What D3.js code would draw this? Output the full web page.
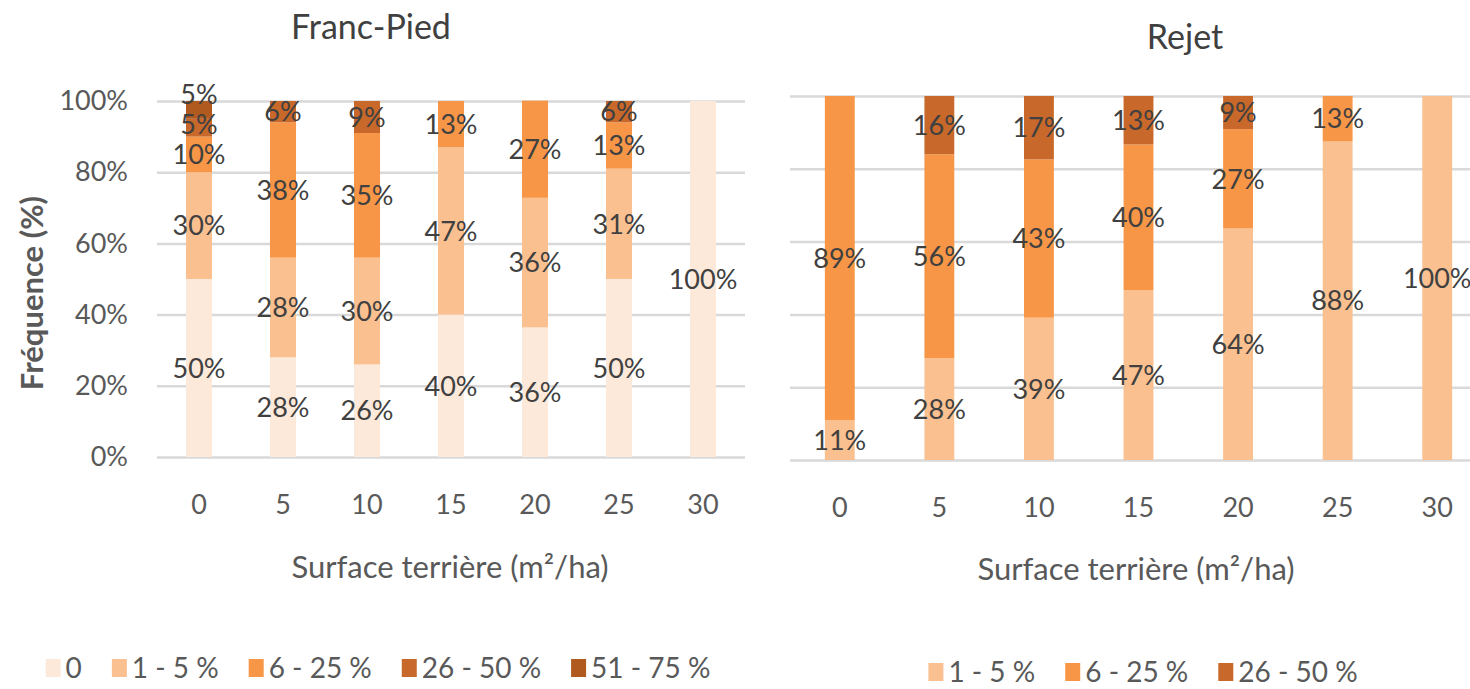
<!DOCTYPE html>
<html>
<head>
<meta charset="utf-8">
<script src="https://cdn.jsdelivr.net/npm/d3@7"></script>
<style>
  html, body { margin: 0; padding: 0; background: #fff; }
  svg { display: block; font-family: Lato, "Open Sans", sans-serif; }
</style>
</head>
<body>
<svg id="chart" width="1470" height="689"></svg>
<script>
// Basal-area classes shared by both panels
const categories = ["0", "5", "10", "15", "20", "25", "30"];
const yTicks = [0, 20, 40, 60, 80, 100];

// Franc-Pied: frequency (%) of each class per basal area
const fpClass0      = [50, 28, 26, 40, 36.4, 50, 100];
const fpClass1to5   = [30, 28, 30, 47, 36.4, 31, 0];
const fpClass6to25  = [10, 38, 35, 13, 27.3, 13, 0];
const fpClass26to50 = [5, 6, 9, 0, 0, 6, 0];
const fpClass51to75 = [5, 0, 0, 0, 0, 0, 0];
const fpNames = ["0", "1 - 5 %", "6 - 25 %", "26 - 50 %", "51 - 75 %"];

// Rejet: frequency (%) of each class per basal area
const rjClass1to5   = [11, 28, 39.1, 46.7, 63.6, 87.5, 100];
const rjClass6to25  = [89, 56, 43.5, 40, 27.3, 12.5, 0];
const rjClass26to50 = [0, 16, 17.4, 13.3, 9.1, 0, 0];
const rjNames = ["1 - 5 %", "6 - 25 %", "26 - 50 %"];

const palette = {
  "0": "#fde9d9",
  "1 - 5 %": "#fac090",
  "6 - 25 %": "#f79646",
  "26 - 50 %": "#c8682a",
  "51 - 75 %": "#b15a20"
};

const svg = d3.select("#chart");
svg.append("rect").attr("width", 1470).attr("height", 689).attr("fill", "#fff");

const gridColor = "#d9d9d9";
const tickColor = "#595959";
const labelColor = "#404040";

function drawPanel(cfg) {
  const keys = cfg.names;
  const rows = categories.map((c, i) => {
    const r = { cat: c };
    keys.forEach((k, j) => { r[k] = cfg.series[j][i]; });
    return r;
  });
  const stacked = d3.stack().keys(keys)(rows);

  const x = d3.scaleBand().domain(categories).range(cfg.xRange).padding(0);
  const y = d3.scaleLinear().domain([0, 100]).range(cfg.yRange);
  const barW = x.bandwidth() * cfg.barFrac;
  const g = svg.append("g");

  // gridlines (+ y tick labels on the first panel)
  const yAxis = d3.axisLeft(y)
    .tickValues(yTicks)
    .tickFormat(cfg.showYLabels ? d => d + "%" : () => "")
    .tickSizeInner(-(cfg.xRange[1] - cfg.xRange[0]))
    .tickSizeOuter(0)
    .tickPadding(29);
  const ya = g.append("g").attr("transform", `translate(${cfg.xRange[0]},0)`).call(yAxis);
  ya.select(".domain").remove();
  ya.selectAll("line").attr("stroke", gridColor).attr("stroke-width", 2.5);
  ya.selectAll("text").attr("fill", tickColor).attr("font-size", 27)
    .attr("font-family", "Lato, sans-serif");

  // x tick labels
  const xAxis = d3.axisBottom(x).tickSize(0).tickPadding(cfg.xTickPad);
  const xa = g.append("g").attr("transform", `translate(0,${cfg.yRange[0]})`).call(xAxis);
  xa.select(".domain").remove();
  xa.selectAll("text").attr("fill", tickColor).attr("font-size", 27)
    .attr("font-family", "Lato, sans-serif");

  // stacked bars
  const layers = g.append("g").selectAll("g").data(stacked).join("g")
    .attr("fill", d => palette[d.key]);
  layers.selectAll("rect")
    .data(d => d.filter(s => s[1] - s[0] > 0))
    .join("rect")
    .attr("x", d => x(d.data.cat) + x.bandwidth() / 2 - barW / 2)
    .attr("width", barW)
    .attr("y", d => y(d[1]))
    .attr("height", d => y(d[0]) - y(d[1]));

  // value labels centred in each segment; stacked labels that would
  // collide inside the same bar are pushed upward
  const lab = g.append("g");
  const minGap = 30;
  categories.forEach((c, i) => {
    let prevY = Infinity;
    stacked.forEach(layer => {
      const s = layer[i];
      const v = s[1] - s[0];
      if (v <= 0) return;
      const ly = Math.min(y((s[0] + s[1]) / 2), prevY - minGap);
      prevY = ly;
      lab.append("text")
        .attr("x", x(c) + x.bandwidth() / 2)
        .attr("y", ly)
        .attr("dy", "0.36em")
        .attr("text-anchor", "middle")
        .attr("font-size", 27)
        .attr("fill", labelColor)
        .text(Math.round(v) + "%");
    });
  });

  // title
  svg.append("text")
    .attr("x", cfg.titlePos[0]).attr("y", cfg.titlePos[1])
    .attr("text-anchor", "middle").attr("dy", "0.36em")
    .attr("font-size", 34).attr("fill", "#404040")
    .text(cfg.title);

  // x axis title
  svg.append("text")
    .attr("x", cfg.xTitlePos[0]).attr("y", cfg.xTitlePos[1])
    .attr("text-anchor", "middle").attr("dy", "0.36em")
    .attr("font-size", 31).attr("fill", tickColor)
    .text("Surface terrière (m²/ha)");

  // legend
  const leg = svg.append("g");
  let cx = 0;
  const sw = 15, gapText = 5, gapItem = 30;
  keys.forEach(k => {
    const it = leg.append("g").attr("transform", `translate(${cx},0)`);
    it.append("rect").attr("x", 0).attr("y", -9).attr("width", sw).attr("height", 18)
      .attr("fill", palette[k]);
    const t = it.append("text").attr("x", sw + gapText).attr("dy", "0.36em")
      .attr("font-size", 28).attr("fill", tickColor).text(k);
    cx += sw + gapText + t.node().getComputedTextLength() + gapItem;
  });
  const total = cx - gapItem;
  leg.attr("transform", `translate(${cfg.legendPos[0] - total / 2},${cfg.legendPos[1]})`);
}

drawPanel({
  names: fpNames,
  series: [fpClass0, fpClass1to5, fpClass6to25, fpClass26to50, fpClass51to75],
  xRange: [157, 745],
  yRange: [457, 101],
  barFrac: 0.31,
  showYLabels: true,
  xTickPad: 38,
  title: "Franc-Pied",
  titlePos: [371, 27],
  xTitlePos: [450, 567],
  legendPos: [378, 668]
});

drawPanel({
  names: rjNames,
  series: [rjClass1to5, rjClass6to25, rjClass26to50],
  xRange: [790, 1487],
  yRange: [460, 96],
  barFrac: 0.30,
  showYLabels: false,
  xTickPad: 38,
  title: "Rejet",
  titlePos: [1185, 37],
  xTitlePos: [1136, 569],
  legendPos: [1143, 672]
});

// y axis title of the first panel
svg.append("text")
  .attr("transform", "translate(32,293) rotate(-90)")
  .attr("text-anchor", "middle").attr("dy", "0.36em")
  .attr("font-size", 31).attr("font-weight", "bold").attr("fill", tickColor)
  .text("Fréquence (%)");
</script>
</body>
</html>
